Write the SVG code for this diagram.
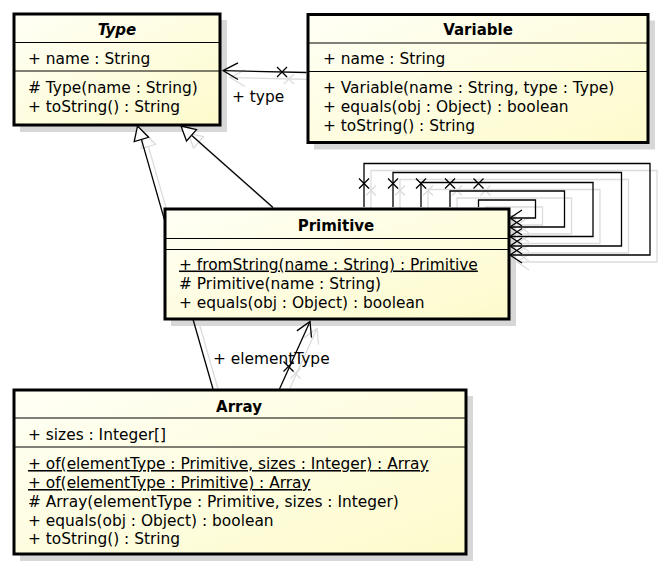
<svg xmlns="http://www.w3.org/2000/svg" width="664" height="569" viewBox="0 0 664 569">
<defs>
<linearGradient id="g" x1="0" y1="0" x2="1" y2="1">
<stop offset="0" stop-color="#fffff6"/>
<stop offset="1" stop-color="#fdfbcb"/>
</linearGradient>
<g id="xm"><path d="M-5 -5 L5 5 M-5 5 L5 -5"/></g>
</defs>
<style>
.box{fill:url(#g);stroke:#000;stroke-width:3}
.sep{stroke:#000;stroke-width:1.2}
.sh{fill:#d7d7d7}
.t{font-family:"DejaVu Sans",sans-serif;font-size:15.4px;fill:#000}
.ti{font-weight:bold;text-anchor:middle;font-size:15px}
.c{stroke:#000;stroke-width:1.3;fill:none}
.cs{stroke:#dcdcdc;stroke-width:1.3;fill:none}
.tri{fill:#fff}
.u{text-decoration:underline}
</style>
<rect width="664" height="569" fill="#fff"/>
<g id="shadows">
<rect class="sh" x="20" y="20" width="207" height="112"/>
<rect class="sh" x="314" y="20.5" width="341" height="129"/>
<rect class="sh" x="171" y="215" width="345" height="111"/>
<rect class="sh" x="20" y="396" width="453" height="165"/>
<g class="cs" transform="translate(7,7)">
<path d="M306.5 72.5 L223 70.6"/>
<polyline points="238,62.8 223,70.6 238,79.5"/>
<use href="#xm" x="282" y="72"/>
<path d="M213 389 L141.4 139.4"/>
<polygon points="137.5,126 148.6,137.3 134.2,141.5"/>
<path d="M273 207.5 L191.5 135.3"/>
<polygon points="181,126 196.5,129.7 186.5,140.9"/>
<path d="M364 207 V163.5 H650 V255 H510"/>
<path d="M393 207 V172.5 H621.5 V246 H510"/>
<path d="M421 207 V182.5 H593 V236.5 H510"/>
<path d="M450 207 V191 H564.5 V227 H510"/>
<path d="M478.5 207 V200 H535.5 V218 H510"/>
<polyline points="522,210 510,218 522,226"/>
<polyline points="522,219 510,227 522,235"/>
<polyline points="522,228.5 510,236.5 522,244.5"/>
<polyline points="522,238 510,246 522,254"/>
<polyline points="522,247 510,255 522,263"/>
<use href="#xm" x="364" y="183.5"/>
<use href="#xm" x="393" y="183.5"/>
<use href="#xm" x="421" y="183.5"/>
<use href="#xm" x="450" y="183.5"/>
<use href="#xm" x="478.5" y="183.5"/>
<path d="M279.5 389 L310 321.5"/>
<polyline points="311.5,337.6 310,321.5 296.9,330.9"/>
<use href="#xm" x="288.5" y="366.5"/>
</g>
</g>
<g id="connectors">
<g id="type-assoc" class="c">
<path d="M306.5 72.5 L223 70.6"/>
<polyline points="238,62.8 223,70.6 238,79.5"/>
<use href="#xm" x="282" y="72"/>
</g>
<g id="array-gen" class="c">
<path d="M213 389 L141.4 139.4"/>
<polygon class="tri" points="137.5,126 148.6,137.3 134.2,141.5"/>
</g>
<g id="primitive-gen" class="c">
<path d="M273 207.5 L191.5 135.3"/>
<polygon class="tri" points="181,126 196.5,129.7 186.5,140.9"/>
</g>
<g id="self-loops" class="c">
<path d="M364 207 V163.5 H650 V255 H510"/>
<path d="M393 207 V172.5 H621.5 V246 H510"/>
<path d="M421 207 V182.5 H593 V236.5 H510"/>
<path d="M450 207 V191 H564.5 V227 H510"/>
<path d="M478.5 207 V200 H535.5 V218 H510"/>
<polyline points="522,210 510,218 522,226"/>
<polyline points="522,219 510,227 522,235"/>
<polyline points="522,228.5 510,236.5 522,244.5"/>
<polyline points="522,238 510,246 522,254"/>
<polyline points="522,247 510,255 522,263"/>
<use href="#xm" x="364" y="183.5"/>
<use href="#xm" x="393" y="183.5"/>
<use href="#xm" x="421" y="183.5"/>
<use href="#xm" x="450" y="183.5"/>
<use href="#xm" x="478.5" y="183.5"/>
</g>
<g id="element-assoc" class="c">
<path d="M279.5 389 L310 321.5"/>
<polyline points="311.5,337.6 310,321.5 296.9,330.9"/>
<use href="#xm" x="288.5" y="366.5"/>
</g>
<text class="t" x="232" y="102">+ type</text>
<text class="t" x="213" y="364">+ elementType</text>
</g>
<g id="Type">
<rect class="box" x="14" y="14" width="206" height="111"/>
<line class="sep" x1="14" y1="42.5" x2="220" y2="42.5"/>
<line class="sep" x1="14" y1="71" x2="220" y2="71"/>
<text class="t ti" x="117" y="35" font-style="italic">Type</text>
<text class="t" x="28" y="63.5">+ name : String</text>
<text class="t" x="28" y="92.5"># Type(name : String)</text>
<text class="t" x="28" y="111.5">+ toString() : String</text>
</g>
<g id="Variable">
<rect class="box" x="308" y="14.5" width="340" height="128"/>
<line class="sep" x1="308" y1="43" x2="648" y2="43"/>
<line class="sep" x1="308" y1="71.5" x2="648" y2="71.5"/>
<text class="t ti" x="478" y="35">Variable</text>
<text class="t" x="323" y="64">+ name : String</text>
<text class="t" x="323" y="92.5">+ Variable(name : String, type : Type)</text>
<text class="t" x="323" y="111.5">+ equals(obj : Object) : boolean</text>
<text class="t" x="323" y="130.5">+ toString() : String</text>
</g>
<g id="Primitive">
<rect class="box" x="165" y="209" width="344" height="110"/>
<line class="sep" x1="165" y1="238.5" x2="509" y2="238.5"/>
<line class="sep" x1="165" y1="249.5" x2="509" y2="249.5"/>
<text class="t ti" x="336" y="231">Primitive</text>
<text class="t u" x="179" y="269.5">+ fromString(name : String) : Primitive</text>
<text class="t" x="179" y="288.5"># Primitive(name : String)</text>
<text class="t" x="179" y="307.5">+ equals(obj : Object) : boolean</text>
</g>
<g id="Array">
<rect class="box" x="14" y="390" width="452" height="164"/>
<line class="sep" x1="14" y1="418" x2="466" y2="418"/>
<line class="sep" x1="14" y1="447" x2="466" y2="447"/>
<text class="t ti" x="239" y="411.5">Array</text>
<text class="t" x="28" y="440">+ sizes : Integer[]</text>
<text class="t u" x="28" y="469">+ of(elementType : Primitive, sizes : Integer) : Array</text>
<text class="t u" x="28" y="488">+ of(elementType : Primitive) : Array</text>
<text class="t" x="28" y="506.8"># Array(elementType : Primitive, sizes : Integer)</text>
<text class="t" x="28" y="525.6">+ equals(obj : Object) : boolean</text>
<text class="t" x="28" y="544.4">+ toString() : String</text>
</g>
</svg>
